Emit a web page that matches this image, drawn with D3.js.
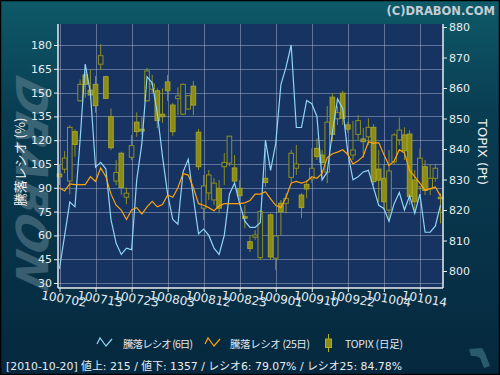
<!DOCTYPE html>
<html><head><meta charset="utf-8">
<script src="https://cdn.jsdelivr.net/npm/d3@7"></script>
<style>body{margin:0;background:#05283e;} svg{display:block;}</style>
</head><body>
<script>
const dates = ["100702","100705","100706","100707","100708","100709","100712","100713","100714","100715","100716","100720","100721","100722","100723","100726","100727","100728","100729","100730",
"100802","100803","100804","100805","100806","100809","100810","100811","100812","100813","100816","100817","100818","100819","100820","100823","100824","100825","100826","100827","100830","100831",
"100901","100902","100903","100906","100907","100908","100909","100910","100913","100914","100915","100916","100917","100921","100922","100924","100927","100928","100929","100930",
"101001","101004","101005","101006","101007","101008","101012","101013","101014","101015","101018","101019","101020"];

const ratio6 = [39,60,81,78,120,168,150,103,106,102,70,55,48,52,51,95,118,160,156,137,110,86,70,67,100,108,84,61,64,60,52,48,60,86,93,80,69,65,65,68,120,101,118,155,166,180,128,128,145,143,135,95,100,125,146,140,112,95,97,100,101,90,79,77,69,80,87,76,85,74,86,62,62,66,79.07];
const ratio25 = [90,88,92.5,92,92,92,97,94,102.5,97,86,79,76,70,76,77.5,73.5,78,81.5,78,79.5,85.5,84,90,99,98,90,80,79,77.5,75.5,78.5,80,80,80,80,80.5,82,86,86,87.5,83,79,77.5,84,93,94,93,94,97,96,99,109,111.5,112.5,114,111,105,107,110,119,118,118.5,111,104,107,114,112,101,97,93,88.5,89.5,90.5,84.78];

const topixOpen = [831.8,833.4,829.5,845.7,855.8,864.3,859.3,861.2,867.8,863.7,850.6,829.5,838.6,824.2,837.3,848.8,846.5,855.8,859.6,859.1,851.4,862.0,854.4,856.5,851.4,853.1,860.6,845.5,820.6,825.6,823.3,827.1,834.2,835.4,833.8,827.1,817.8,809.6,811.1,804.4,830.4,818.4,804.2,822.2,822.2,830.7,833.7,824.9,828.4,830.2,840.2,838.0,832.4,857.0,849.9,858.3,847.9,838.0,844.8,843.3,844.0,847.1,833.4,830.4,820.0,835.8,843.0,844.6,844.9,829.8,827.6,834.2,826.9,830.4,824.2];
const topixHigh = [834.8,839.3,847.8,846.5,862.8,865.3,866.1,863.9,874.4,864.0,853.3,836.4,839.1,827.4,844.6,852.0,850.4,866.6,864.3,859.9,859.9,864.3,855.1,860.2,861.5,857.7,862.3,846.6,831.5,833.1,830.5,829.8,838.7,844.3,838.0,829.8,821.6,811.8,813.4,820.0,840.3,818.9,811.5,823.3,825.5,839.7,841.3,825.5,829.8,840.2,843.6,839.7,854.1,858.4,854.1,859.1,849.0,849.2,851.1,846.9,850.1,848.1,839.7,834.8,839.7,845.2,850.3,847.1,846.2,833.1,840.2,836.4,834.8,835.1,825.5];
const topixLow = [828.2,832.1,825.1,837.5,855.5,856.8,856.1,851.9,865.9,856.4,839.7,828.2,824.9,821.9,836.4,844.0,844.6,855.5,858.4,846.8,848.6,855.7,844.3,851.1,851.1,852.8,851.1,833.1,816.7,823.3,821.6,818.9,828.2,834.4,828.2,823.3,814.0,806.2,810.2,803.6,827.6,803.6,800.3,811.8,818.9,829.2,831.5,817.3,823.8,828.9,836.4,834.8,828.8,842.4,847.9,847.9,845.3,836.4,843.0,837.1,841.3,828.2,822.7,820.0,816.2,834.8,841.3,836.4,821.6,820.0,826.6,824.9,824.9,829.3,815.6];
const topixClose = [830.9,837.0,847.1,841.5,861.2,861.2,857.7,854.2,870.6,856.6,840.4,832.3,827.4,825.5,841.1,845.7,845.9,865.6,861.3,849.3,850.6,859.1,845.7,857.4,861.2,857.5,854.4,834.2,827.9,831.5,828.8,820.6,835.6,844.2,829.5,824.7,817.3,807.4,811.8,819.5,829.0,804.6,811.5,819.4,823.8,838.6,835.1,820.8,826.9,833.7,837.5,835.6,848.8,844.8,851.9,850.1,846.5,839.7,849.3,842.4,847.1,829.3,829.8,822.7,832.8,844.6,846.2,839.4,824.4,822.7,837.0,826.4,830.4,833.7,823.7];

const ratioTicks = [30,45,60,75,90,105,120,135,150,165,180];
const topixTicks = [800,810,820,830,840,850,860,870,880];
const dateTicks = dates.filter((d,i)=>i%7===0);
const legendLabels = ["騰落レシオ (6日)","騰落レシオ (25日)","TOPIX (日足)"];
const titleText = "(C)DRABON.COM";
const leftTitle = "騰落レシオ (%)";
const rightTitle = "TOPIX (Pt)";
const statusText = "[2010-10-20] 値上: 215 / 値下: 1357 / レシオ6: 79.07% / レシオ25: 84.78%";

const W=500,H=375;
const P={l:58,r:443,t:24,b:288};
const FONT="'DejaVu Sans','Noto Sans CJK JP',sans-serif";
const JFONT="'Noto Sans CJK JP','DejaVu Sans',sans-serif";

const svg=d3.select("body").append("svg").attr("width",W).attr("height",H);
const defs=svg.append("defs");
const g1=defs.append("linearGradient").attr("id","bg").attr("x1",0).attr("y1",0).attr("x2",0).attr("y2",1);
g1.append("stop").attr("offset","0%").attr("stop-color","#0e5a68");
g1.append("stop").attr("offset","30%").attr("stop-color","#093d52");
g1.append("stop").attr("offset","100%").attr("stop-color","#05283e");
svg.append("rect").attr("width",W).attr("height",H).attr("fill","url(#bg)");

// watermark
svg.append("text").attr("transform","translate(31,183) rotate(90) skewX(-15)")
  .attr("text-anchor","middle").attr("dominant-baseline","central")
  .attr("font-family","'DejaVu Sans',sans-serif").attr("font-weight","bold").attr("font-style","italic")
  .attr("font-size",44).attr("textLength",210).attr("lengthAdjust","spacingAndGlyphs")
  .attr("fill","#6a8c9a").attr("opacity",0.5).text("DRABON");

// plot bg
svg.append("rect").attr("x",P.l).attr("y",P.t).attr("width",P.r-P.l).attr("height",P.b-P.t).attr("fill","#163361");

const x=d3.scalePoint().domain(dates).range([59.5,440.5]);
const yL=d3.scaleLinear().domain([30,180]).range([283,45]);
const yR=d3.scaleLinear().domain([800,880]).range([271,27]);

// grid
const grid=svg.append("g").attr("stroke","#b8c4dc").attr("stroke-opacity",0.45).attr("stroke-width",1);
grid.selectAll("line.h").data(ratioTicks).join("line").attr("x1",P.l).attr("x2",P.r)
  .attr("y1",d=>Math.round(yL(d))+0.5).attr("y2",d=>Math.round(yL(d))+0.5);
grid.selectAll("line.v").data(dateTicks).join("line").attr("y1",P.t).attr("y2",P.b)
  .attr("x1",d=>Math.round(x(d))+0.5).attr("x2",d=>Math.round(x(d))+0.5);

// candles
const candles=dates.map((d,i)=>({d,o:topixOpen[i],h:topixHigh[i],l:topixLow[i],c:topixClose[i]}));
const cg=svg.append("g");
const bw=4.6;
cg.selectAll("line").data(candles).join("line")
  .attr("x1",d=>x(d.d)).attr("x2",d=>x(d.d)).attr("y1",d=>yR(d.h)).attr("y2",d=>yR(d.l))
  .attr("stroke","#8f8f1e").attr("stroke-width",1);
cg.selectAll("rect").data(candles).join("rect")
  .attr("x",d=>x(d.d)-bw/2).attr("width",bw)
  .attr("y",d=>yR(Math.max(d.o,d.c))).attr("height",d=>Math.max(1,Math.abs(yR(d.o)-yR(d.c))))
  .attr("fill",d=>d.c>d.o?"#163361":"#8c8c14")
  .attr("stroke",d=>d.c>d.o?"#8f8f1e":"#a3a32a").attr("stroke-width",1);

// lines
const lineL=d3.line().x((v,i)=>x(dates[i])).y(v=>yL(v));
svg.append("path").attr("d",lineL(ratio6)).attr("fill","none").attr("stroke","#8fd4f6").attr("stroke-width",1.2);
svg.append("path").attr("d",lineL(ratio25)).attr("fill","none").attr("stroke","#ffa20a").attr("stroke-width",1.2);

// axes
const axisCol="#e8ecf0";
const aL=svg.append("g").attr("transform",`translate(${P.l},0)`).call(d3.axisLeft(yL).tickValues(ratioTicks).tickSize(4).tickPadding(2));
const aR=svg.append("g").attr("transform",`translate(${P.r},0)`).call(d3.axisRight(yR).tickValues(topixTicks).tickSize(4).tickPadding(2));
const aB=svg.append("g").attr("transform",`translate(0,${P.b})`).call(d3.axisBottom(x).tickValues(dateTicks).tickSize(4).tickFormat(()=>""));
[aL,aR,aB].forEach(a=>{a.select(".domain").remove();a.selectAll("line").attr("stroke",axisCol);
  a.selectAll("text").attr("fill",axisCol).attr("font-family",FONT).attr("font-size",11);});
svg.append("line").attr("x1",P.l).attr("x2",P.l).attr("y1",P.t).attr("y2",P.b).attr("stroke",axisCol).attr("stroke-width",1.5);
svg.append("line").attr("x1",P.r).attr("x2",P.r).attr("y1",P.t).attr("y2",P.b).attr("stroke",axisCol).attr("stroke-width",1.5);
svg.append("line").attr("x1",P.l).attr("x2",P.r).attr("y1",P.b).attr("y2",P.b).attr("stroke",axisCol).attr("stroke-width",1.5);

svg.append("g").selectAll("text").data(dateTicks).join("text")
  .attr("transform",d=>`translate(${x(d)+4.5},299) rotate(10)`)
  .attr("text-anchor","middle").attr("dominant-baseline","central")
  .attr("font-family",FONT).attr("font-size",12).attr("fill",axisCol).text(d=>d);

// titles
svg.append("text").attr("x",495).attr("y",15).attr("text-anchor","end")
  .attr("font-family",FONT).attr("font-weight","bold").attr("font-size",11.5)
  .attr("fill","#c4ccd4").text(titleText);
svg.append("text").attr("transform","translate(19,162) rotate(-90)").attr("text-anchor","middle").attr("dominant-baseline","central")
  .attr("font-family",JFONT).attr("font-size",13).attr("fill","#f0f0f0").text(leftTitle);
svg.append("text").attr("transform","translate(482,152) rotate(90)").attr("text-anchor","middle").attr("dominant-baseline","central")
  .attr("font-family",FONT).attr("font-size",13).attr("fill","#f0f0f0").text(rightTitle);

// legend
const lg=svg.append("g");
const zig=[[0,6],[3,0],[9,8],[15,1]];
lg.append("path").attr("d",d3.line()(zig.map(p=>[97+p[0],338+p[1]]))).attr("fill","none").attr("stroke","#8fd4f6").attr("stroke-width",1.2);
lg.append("path").attr("d",d3.line()(zig.map(p=>[205+p[0],338+p[1]]))).attr("fill","none").attr("stroke","#ffa20a").attr("stroke-width",1.2);
lg.append("line").attr("x1",328.5).attr("x2",328.5).attr("y1",334).attr("y2",352).attr("stroke","#b0b024");
lg.append("rect").attr("x",325.5).attr("y",339).attr("width",6).attr("height",8.5).attr("fill","#8c8c14").attr("stroke","#b0b024");
lg.selectAll("text").data(legendLabels).join("text")
  .attr("x",(d,i)=>[123,230,345][i]).attr("y",348)
  .attr("textLength",(d,i)=>[70,80,58][i]).attr("lengthAdjust","spacing")
  .attr("font-family",JFONT).attr("font-size",10.5).attr("fill","#e4e8ec").text(d=>d);

svg.append("text").attr("x",6).attr("y",370).attr("font-family",FONT).attr("font-size",11)
  .attr("textLength",396).attr("lengthAdjust","spacingAndGlyphs").attr("fill","#e8ecf0").text(statusText);

// logo
svg.append("path").attr("d","M469,349 L482,348 L485,353 L490,366 L484,368 L480,358 L476,356 L471,356 Z").attr("fill","#2a5a6c");

svg.append("rect").attr("x",0.5).attr("y",0.5).attr("width",W-1).attr("height",H-1).attr("fill","none").attr("stroke","#000").attr("stroke-width",1.5);
</script>
</body></html>
